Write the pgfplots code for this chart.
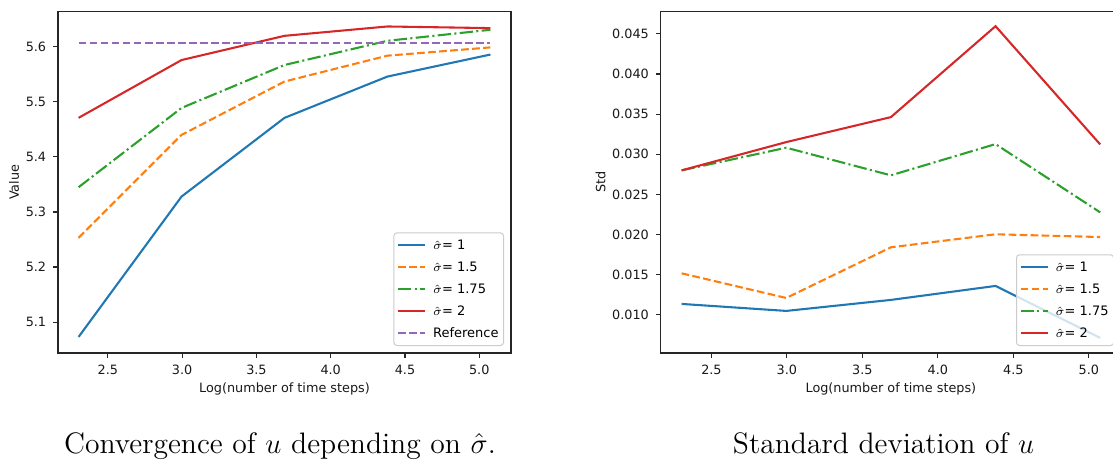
\documentclass[border=0pt]{standalone}
\usepackage{fontspec}
\usepackage{pgfplots}
\pgfplotsset{compat=1.18}
\newfontfamily\mplfont{DejaVu Sans}
\definecolor{tabblue}{HTML}{1F77B4}
\definecolor{taborange}{HTML}{FF7F0E}
\definecolor{tabgreen}{HTML}{2CA02C}
\definecolor{tabred}{HTML}{D62728}
\definecolor{tabpurple}{HTML}{9467BD}
\pgfplotsset{
  mplstyle/.style={
    scale only axis,
    height=170.75pt,
    axis line style={line width=0.55pt, black!85},
    tick align=outside, xtick pos=left, ytick pos=left,
    major tick length=2.4pt,
    every tick/.style={black!85, line width=0.55pt},
    tick label style={font=\mplfont\fontsize{6.4}{7.5}\selectfont, black!90},
    /pgf/number format/assume math mode=true,
    label style={font=\mplfont\fontsize{6.4}{7.5}\selectfont, black!90},
    ylabel style={yshift=-3.5pt},
    xlabel style={yshift=3pt},
    xmin=2.1640, xmax=5.2138,
    xtick={2.5,3.0,3.5,4.0,4.5,5.0},
    xticklabels={2.5,3.0,3.5,4.0,4.5,5.0},
    xlabel={Log(number of time steps)},
    scaled y ticks=false,
    legend cell align=left,
    legend style={at={(1,0)}, anchor=south east, xshift=-3.5pt, yshift=3.5pt,
      draw=black!20, rounded corners=1.5pt, fill=white, fill opacity=0.8, text opacity=1,
      line width=0.5pt, inner sep=1.5pt, row sep=1.45pt,
      font=\mplfont\fontsize{6.5}{8}\selectfont,
      nodes={inner sep=1pt, text height=6pt, text depth=1.5pt}},
    legend image code/.code={\draw[#1] (0pt,0pt) -- (13.5pt,0pt); \path (0pt,0pt) (16pt,0pt);},
    every axis plot/.append style={line width=1.04pt},
  },
  mpldash/.style={dash pattern=on 3.85pt off 1.67pt},
  mpldashdot/.style={dash pattern=on 6.67pt off 1.67pt on 1.04pt off 1.67pt},
}
\begin{document}
\begin{tikzpicture}
\begin{axis}[mplstyle, at={(29pt,54pt)}, anchor=south west, width=226.5pt,
  ymin=5.0438, ymax=5.6642,
  ytick={5.1,5.2,5.3,5.4,5.5,5.6},
  yticklabels={5.1,5.2,5.3,5.4,5.5,5.6},
  ylabel={Value}]
\addplot[tabblue] coordinates {(2.3026,5.073) (2.9957,5.328) (3.6889,5.471) (4.3820,5.546) (5.0752,5.586)};
\addlegendentry{$\hat{\sigma}$= 1}
\addplot[taborange, mpldash] coordinates {(2.3026,5.253) (2.9957,5.440) (3.6889,5.537) (4.3820,5.584) (5.0752,5.599)};
\addlegendentry{$\hat{\sigma}$= 1.5}
\addplot[tabgreen, mpldashdot] coordinates {(2.3026,5.345) (2.9957,5.489) (3.6889,5.567) (4.3820,5.611) (5.0752,5.631)};
\addlegendentry{$\hat{\sigma}$= 1.75}
\addplot[tabred] coordinates {(2.3026,5.471) (2.9957,5.576) (3.6889,5.620) (4.3820,5.637) (5.0752,5.634)};
\addlegendentry{$\hat{\sigma}$= 2}
\addplot[tabpurple, mpldash] coordinates {(2.3026,5.607) (5.0752,5.607)};
\addlegendentry{Reference}
\end{axis}
\begin{axis}[mplstyle, at={(330.35pt,54pt)}, anchor=south west, width=230.2pt,
  ymin=0.00526, ymax=0.04778,
  ytick={0.010,0.015,0.020,0.025,0.030,0.035,0.040,0.045},
  yticklabels={0.010,0.015,0.020,0.025,0.030,0.035,0.040,0.045},
  ylabel={Std}]
\addplot[tabblue] coordinates {(2.3026,0.01137) (2.9957,0.01050) (3.6889,0.01187) (4.3820,0.01361) (5.0752,0.00714)};
\addlegendentry{$\hat{\sigma}$= 1}
\addplot[taborange, mpldash] coordinates {(2.3026,0.01518) (2.9957,0.01211) (3.6889,0.01842) (4.3820,0.02004) (5.0752,0.01970)};
\addlegendentry{$\hat{\sigma}$= 1.5}
\addplot[tabgreen, mpldashdot] coordinates {(2.3026,0.02800) (2.9957,0.03082) (3.6889,0.02738) (4.3820,0.03127) (5.0752,0.02277)};
\addlegendentry{$\hat{\sigma}$= 1.75}
\addplot[tabred] coordinates {(2.3026,0.02800) (2.9957,0.03152) (3.6889,0.03463) (4.3820,0.04595) (5.0752,0.03123)};
\addlegendentry{$\hat{\sigma}$= 2}
\end{axis}
\node[anchor=base, font=\fontsize{14.8}{17}\selectfont] at (140pt,4pt) {Convergence of $u$ depending on $\hat{\sigma}$.};
\node[anchor=base, font=\fontsize{14.8}{17}\selectfont] at (441.75pt,4pt) {Standard deviation of $u$};
\pgfresetboundingbox
\path[use as bounding box] (0,0) rectangle (556.5pt,230.5pt);
\end{tikzpicture}
\end{document}
